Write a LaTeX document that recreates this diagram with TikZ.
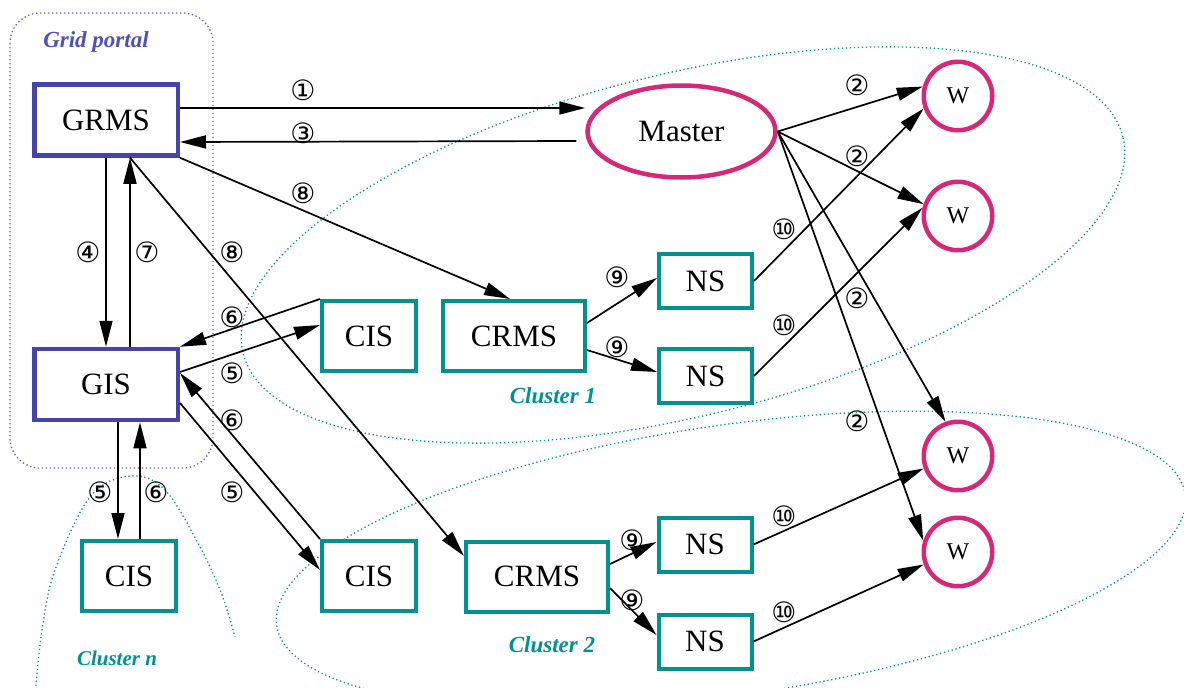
\documentclass[tikz,border=0pt]{standalone}
\usepackage{fontspec}
\setmainfont{Liberation Serif}
\newfontfamily\circfont{DejaVu Sans}
\usetikzlibrary{arrows.meta,shapes.geometric,calc}
\definecolor{pblue}{RGB}{68,68,170}
\definecolor{pbluetxt}{RGB}{80,80,185}
\definecolor{pdot}{RGB}{90,90,205}
\definecolor{cteal}{RGB}{0,145,145}
\definecolor{cmag}{RGB}{214,40,120}
\begin{document}
\begin{tikzpicture}[x=1pt,y=-1pt,
 portalbox/.style={draw=pblue, line width=4.5pt, fill=white, minimum width=143.5pt, minimum height=71pt, inner sep=0pt, font=\fontsize{31}{31}\selectfont},
 tealbox/.style={draw=cteal, line width=4pt, fill=white, inner sep=0pt, font=\fontsize{31}{31}\selectfont},
 cisbox/.style={tealbox, minimum width=94pt, minimum height=70pt},
 crmsbox/.style={tealbox, minimum width=142pt, minimum height=70pt},
 nsbox/.style={tealbox, minimum width=93pt, minimum height=54pt},
 worker/.style={circle, draw=cmag, line width=4.5pt, fill=white, minimum size=68.5pt, inner sep=0pt, font=\fontsize{24}{24}\selectfont},
 masternode/.style={ellipse, draw=cmag, line width=4.5pt, fill=white, minimum width=188pt, minimum height=92pt, inner sep=0pt, font=\fontsize{31}{31}\selectfont},
 arr/.style={line width=1.7pt, -{Triangle[length=26pt,width=13pt]}},
 num/.style={font=\circfont\fontsize{28}{28}\selectfont, inner sep=0pt},
 tdot/.style={draw=cteal, line width=1.3pt, dash pattern=on 1.3pt off 2.7pt},
 clabel/.style={text=cteal, font=\fontsize{23}{23}\selectfont\bfseries\itshape},
]
\useasboundingbox (0,0) rectangle (1184,688);
% background regions
\draw[draw=pdot, line width=1.3pt, dash pattern=on 1.3pt off 2.7pt, rounded corners=30pt] (10,13) rectangle (213,468);
\draw[tdot, rotate around={13.8:(683,245)}] (683,245) ellipse [x radius=453pt, y radius=171pt];
\draw[tdot, rotate around={8.2:(731,560)}] (731,560) ellipse [x radius=459pt, y radius=135pt];
\draw[tdot] plot[smooth, tension=0.6] coordinates {(36,686) (42,630) (55,570) (90,497) (130,476) (165,490) (200,547) (222,595) (235,637)};
% labels
\node[text=pbluetxt, font=\fontsize{23}{23}\selectfont\bfseries\itshape] (lgp) at (96,42) {Grid portal};
\node[clabel] (lc1) at (553,396) {Cluster 1};
\node[clabel] (lc2) at (552,645) {Cluster 2};
\node[clabel, font=\fontsize{21}{21}\selectfont\bfseries\itshape] (lcn) at (117,658) {Cluster n};
% nodes
\node[portalbox] (grms) at (106,120) {GRMS};
\node[portalbox] (gis) at (106,384.5) {GIS};
\node[cisbox] (cisn) at (129,576) {CIS};
\node[cisbox] (cis1) at (369,336) {CIS};
\node[cisbox] (cis2) at (369,576) {CIS};
\node[crmsbox] (crms1) at (514,336) {CRMS};
\node[crmsbox] (crms2) at (537,576.5) {CRMS};
\node[nsbox] (ns1a) at (705.5,281) {NS};
\node[nsbox] (ns1b) at (705.5,376) {NS};
\node[nsbox] (ns2a) at (705,544.5) {NS};
\node[nsbox] (ns2b) at (705,641.5) {NS};
\node[masternode] (master) at (681.5,131.5) {Master};
\node[worker] (w1) at (958,96) {W};
\node[worker] (w2) at (958,216) {W};
\node[worker] (w3) at (958,456) {W};
\node[worker] (w4) at (958,552) {W};
% connectors
\draw[arr] ([yshift=12pt]grms.east) -- ([yshift=23.5pt]master.west);
\draw[arr] ([xshift=-9pt,yshift=-9.5pt]master.west) -- ([yshift=-22pt]grms.east);
\draw[arr] (master.east) -- (w1.165);
\draw[arr] (master.east) -- (w2.161);
\draw[arr] (master.east) -- (w3.110);
\draw[arr] (master.east) -- (w4.162);
\draw[arr] (ns1a.east) -- (w1.200);
\draw[arr] (ns1b.east) -- (w2.167);
\draw[arr] (ns2a.east) -- (w3.200);
\draw[arr] (ns2b.east) -- (w4.200);
\draw[arr] ([yshift=13pt]crms1.east) -- ([yshift=3pt]ns1a.west);
\draw[arr] ([yshift=-14pt]crms1.east) -- ([yshift=4pt]ns1b.west);
\draw[arr] ([yshift=12.5pt]crms2.east) -- ([yshift=2.5pt]ns2a.west);
\draw[arr] ([yshift=-11.5pt]crms2.east) -- ([yshift=6.5pt]ns2b.west);
\draw[arr] (grms.south east) -- ([xshift=-4pt]crms1.north);
\draw[arr] ([xshift=24pt]grms.south) -- ([yshift=20.5pt]crms2.west);
\draw[arr] (grms.south) -- (gis.north);
\draw[arr] ([xshift=24pt]gis.north) -- ([xshift=24pt]grms.south);
\draw[arr] ([xshift=12pt]gis.south) -- ([xshift=-11pt]cisn.north);
\draw[arr] ([xshift=11pt]cisn.north) -- ([xshift=34pt]gis.south);
\draw[arr] (cis1.north west) -- (gis.north east);
\draw[arr] ([yshift=12.5pt]gis.east) -- ([yshift=11pt]cis1.west);
\draw[arr] (cis2.north west) -- ([yshift=11.5pt]gis.east);
\draw[arr] ([yshift=-18.5pt]gis.east) -- ([yshift=6pt]cis2.west);
% step numbers
\node[num] (s1) at (303,90) {①};
\node[num] (s3) at (303,133) {③};
\node[num] (s8a) at (303,193) {⑧};
\node[num] (s2a) at (857,85) {②};
\node[num] (s2b) at (857,156) {②};
\node[num] (s2c) at (857,298) {②};
\node[num] (s2d) at (857,421) {②};
\node[num] (s10a) at (784,229) {⑩};
\node[num] (s10b) at (784,325) {⑩};
\node[num] (s10c) at (784,516) {⑩};
\node[num] (s10d) at (784,612) {⑩};
\node[num] (s9a) at (617,277) {⑨};
\node[num] (s9b) at (617,347) {⑨};
\node[num] (s9c) at (632,540) {⑨};
\node[num] (s9d) at (632,600) {⑨};
\node[num] (s4) at (88,252) {④};
\node[num] (s7) at (147,252) {⑦};
\node[num] (s8b) at (232,252) {⑧};
\node[num] (s6a) at (232,317) {⑥};
\node[num] (s5a) at (232,373) {⑤};
\node[num] (s6b) at (232,420) {⑥};
\node[num] (s5b) at (232,492) {⑤};
\node[num] (s5c) at (100,492) {⑤};
\node[num] (s6c) at (156,492) {⑥};
\end{tikzpicture}
\end{document}
